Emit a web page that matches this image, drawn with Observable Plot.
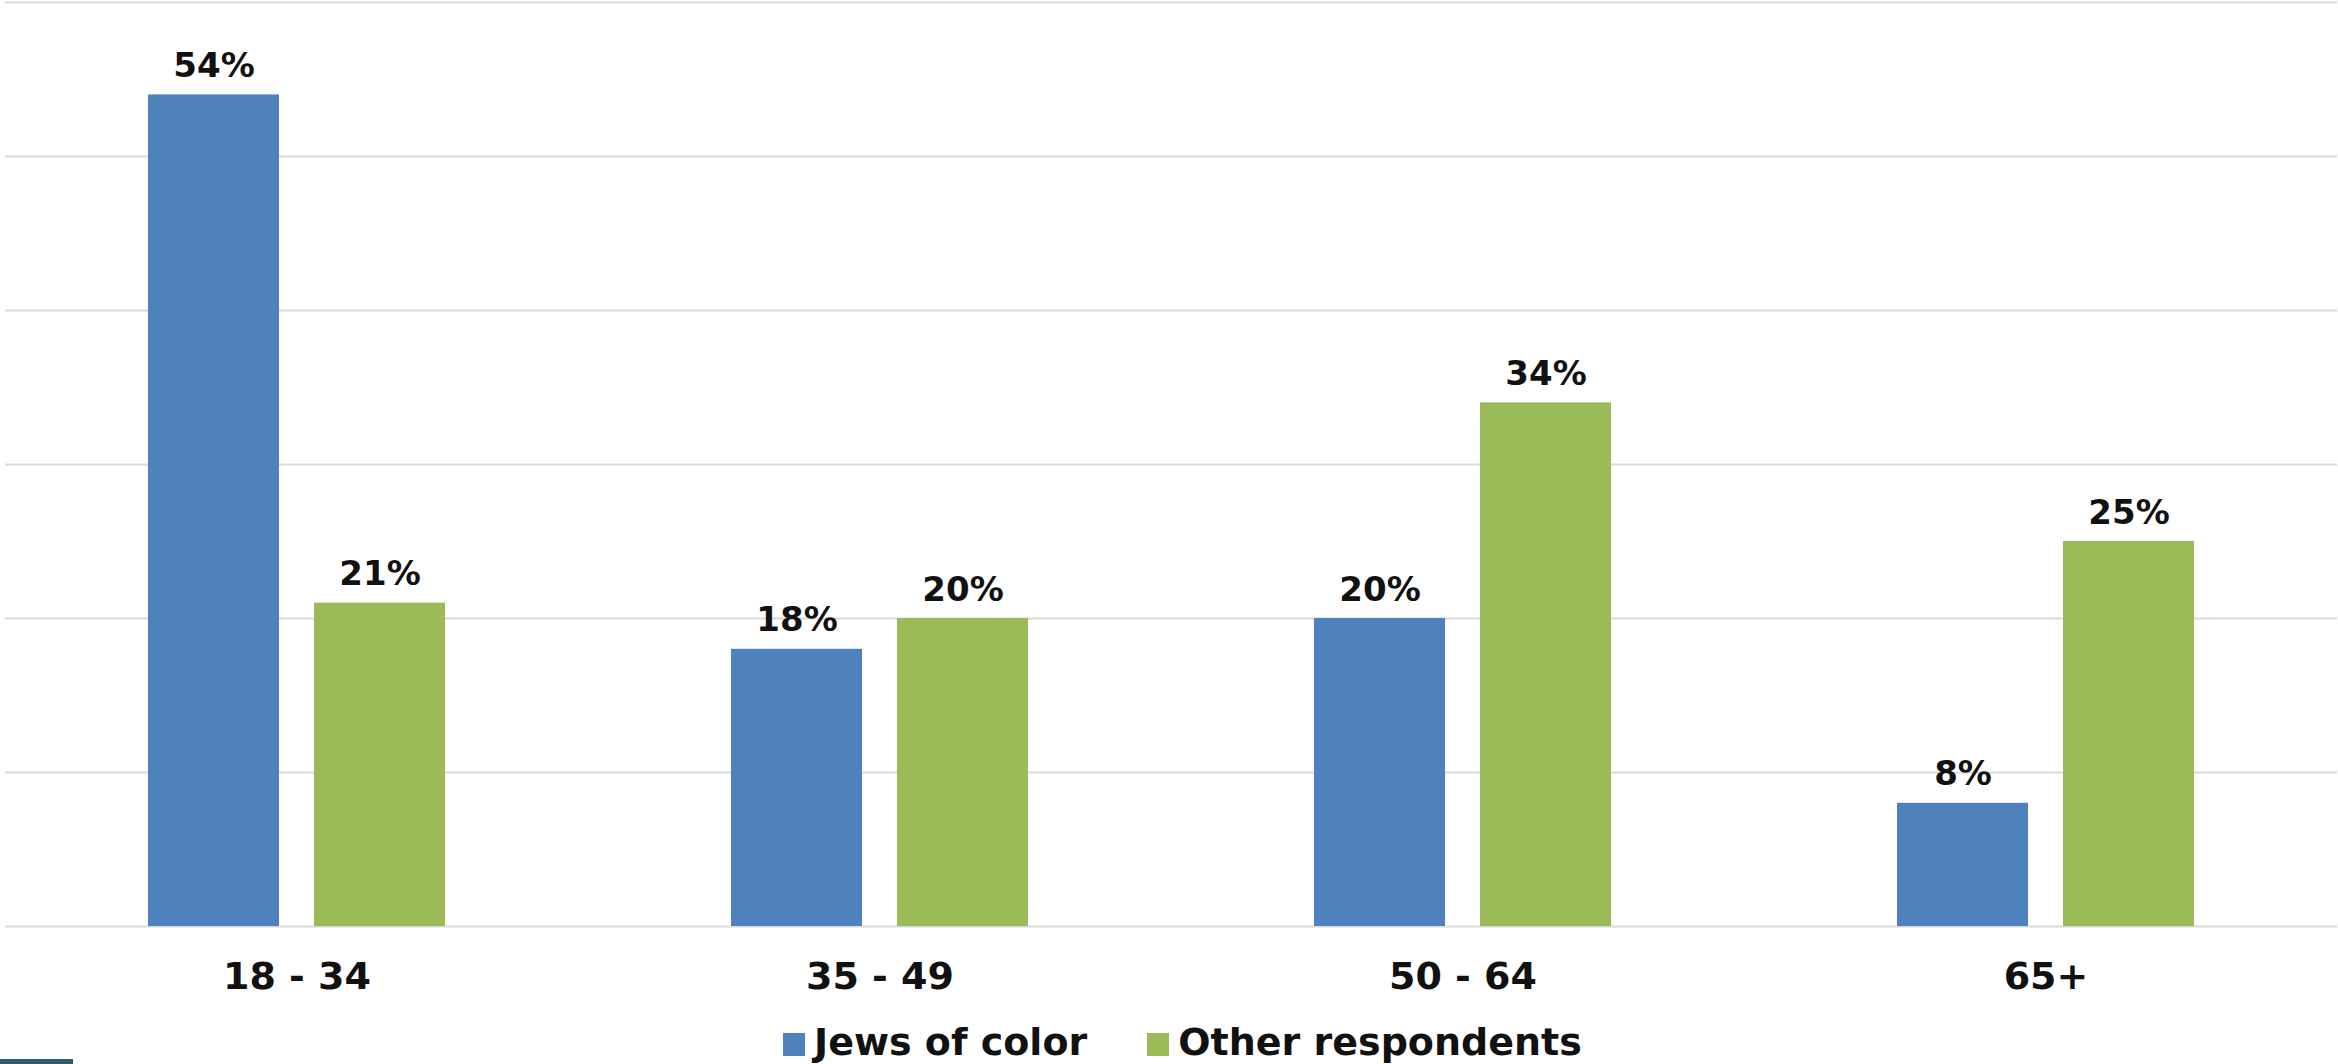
<!DOCTYPE html>
<html><head><meta charset="utf-8">
<script src="https://cdn.jsdelivr.net/npm/d3@7"></script>
<script src="https://cdn.jsdelivr.net/npm/@observablehq/plot@0.6"></script>
<style>
html,body{margin:0;padding:0;background:#fff;}
#wrap{position:relative;width:2338px;height:1064px;overflow:hidden;font-family:"DejaVu Sans",Verdana,sans-serif;}
#legend{position:absolute;left:783px;top:1010px;white-space:nowrap;font-weight:bold;font-size:38px;line-height:40px;padding-top:12px;color:#111;}
.sw{display:inline-block;width:22px;height:23px;vertical-align:-1px;margin-right:9px;}
.item{display:inline-block;}
.item + .item{margin-left:60px;}
#teal{position:absolute;left:0;top:1059px;width:73px;height:5px;background:#2f5e6d;}
</style></head>
<body><div id="wrap"><div id="chart"></div><div id="legend"></div><div id="teal"></div></div>
<script>
const ages = ["18 - 34", "35 - 49", "50 - 64", "65+"];
const series = ["Jews of color", "Other respondents"];
const jewsOfColor = [54, 18, 20, 8];
const otherRespondents = [21, 20, 34, 25];
const colors = ["#4f81bd", "#9bbb59"];
const gridTicks = [0, 10, 20, 30, 40, 50, 60];

const data = ages.flatMap((age, i) => [
  {age, series: series[0], value: jewsOfColor[i]},
  {age, series: series[1], value: otherRespondents[i]}
]);

const chart = Plot.plot({
  width: 2338, height: 1010,
  marginLeft: 3, marginRight: 0, marginTop: 2, marginBottom: 84,
  style: {fontFamily: "DejaVu Sans", fontSize: "38px", fontWeight: "bold", color: "#111", background: "#fff"},
  fx: {domain: ages, padding: 0, axis: "bottom", tickSize: 0, tickPadding: 36, label: null},
  x: {domain: series, paddingInner: 0.2137, paddingOuter: 0.859, axis: null},
  y: {domain: [0, 60], axis: null},
  color: {domain: series, range: colors},
  marks: [
    Plot.ruleY(gridTicks, {stroke: "#d9d9d9", strokeWidth: 2}),
    Plot.barY(data, {fx: "age", x: "series", y: "value", fill: "series"}),
    Plot.text(data, {fx: "age", x: "series", y: "value", text: d => d.value + "%", dy: -18, lineAnchor: "bottom", fontSize: 34, fontWeight: "bold", fill: "#111"})
  ]
});
document.getElementById("chart").appendChild(chart);

const legend = document.getElementById("legend");
series.forEach((s, i) => {
  const item = document.createElement("span");
  item.className = "item";
  const sw = document.createElement("span");
  sw.className = "sw";
  sw.style.background = colors[i];
  item.appendChild(sw);
  item.appendChild(document.createTextNode(s));
  legend.appendChild(item);
});
</script>
</body></html>
